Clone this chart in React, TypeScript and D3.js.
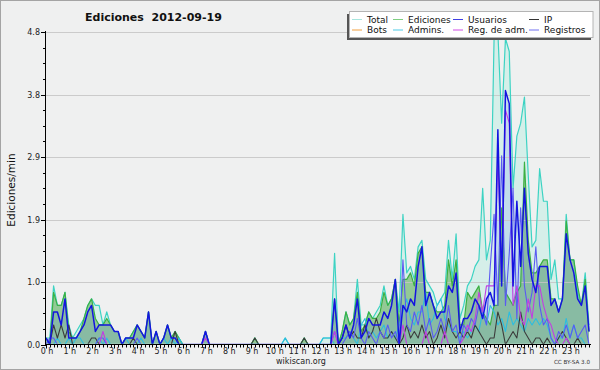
import React from 'react';
import * as d3 from 'd3';

const W = 600;
const H = 370;

// 10-minute slots, 144 per day, values in edits/min
const hourLabels = d3.range(24).map((h) => `${h} h`);
const yTickValues = [0, 0.96, 1.92, 2.88, 3.84, 4.8];

const total = [
  0.1, 0.1, 0.9, 0.6, 0.6, 0.8, 0.3, 0.1, 0.2, 0.3,
  0.4, 0.6, 0.7, 0.6, 0.6, 0.3, 0.5, 0.3, 0.2, 0.2,
  0, 0.1, 0.1, 0.2, 0.3, 0.2, 0.1, 0.5, 0, 0.2,
  0, 0.1, 0.3, 0.1, 0.2, 0.1, 0, 0, 0, 0,
  0, 0, 0.2, 0, 0, 0, 0, 0, 0, 0,
  0, 0, 0, 0, 0, 0.1, 0, 0, 0, 0,
  0, 0, 0, 0.1, 0, 0, 0, 0, 0.1, 0,
  0, 0, 0, 0.1, 0.1, 0.1, 1.4, 0, 0.2, 0.5,
  0.3, 0.4, 1.0, 0.3, 0.3, 0.5, 0.4, 0.5, 0.6, 0.9,
  0.6, 0.7, 1.0, 0.5, 2.0, 1.1, 1.2, 1.0, 1.5, 1.6,
  1.0, 0.9, 0.8, 0.6, 0.7, 0.8, 1.6, 1.0, 1.7, 0.4,
  0.6, 0.9, 1.0, 1.2, 1.3, 2.4, 1.3, 1.6, 4.7, 4.8,
  3.4, 4.7, 4.5, 2.4, 3.2, 3.4, 3.8, 2.6, 1.5, 1.6,
  2.7, 2.2, 2.2, 1.0, 1.3, 0.7, 0.7, 2.0, 1.3, 1.3,
  0.8, 0.6, 1.1, 0.3,
];

const ediciones = [
  0.1, 0, 0.8, 0.6, 0.6, 0.8, 0.2, 0.1, 0.1, 0.2,
  0.4, 0.6, 0.7, 0.4, 0.3, 0.3, 0.4, 0.3, 0.2, 0.2,
  0, 0.1, 0.1, 0.2, 0.3, 0.2, 0.1, 0.5, 0, 0.2,
  0, 0.1, 0.3, 0.1, 0.2, 0.1, 0, 0, 0, 0,
  0, 0, 0.2, 0, 0, 0, 0, 0, 0, 0,
  0, 0, 0, 0, 0, 0.1, 0, 0, 0, 0,
  0, 0, 0, 0, 0, 0, 0, 0, 0.1, 0,
  0, 0, 0, 0, 0, 0, 0.7, 0, 0.2, 0.5,
  0.3, 0.4, 0.8, 0.2, 0.3, 0.5, 0.4, 0.4, 0.5, 0.8,
  0.6, 0.7, 1.0, 0.3, 1.0, 1.0, 1.1, 0.9, 1.4, 1.5,
  0.8, 0.8, 0.6, 0.5, 0.5, 0.6, 1.3, 0.9, 1.3, 0.3,
  0.3, 0.8, 0.7, 0.8, 0.9, 0.5, 0.4, 0.3, 0.6, 0.6,
  2.1, 0.8, 0.7, 0.6, 0.8, 0.9, 2.8, 1.6, 1.1, 1.1,
  1.2, 1.3, 1.3, 0.7, 0.7, 0.5, 0.7, 1.9, 1.3, 1.3,
  0.9, 0.6, 1.0, 0.2,
];

const usuarios = [
  0.1, 0, 0.5, 0.5, 0.3, 0.7, 0.1, 0.1, 0.1, 0.2,
  0.3, 0.5, 0.6, 0.2, 0.3, 0.3, 0.3, 0.3, 0.2, 0.2,
  0, 0.1, 0.1, 0.1, 0.3, 0.2, 0.1, 0.5, 0, 0.2,
  0, 0.1, 0.3, 0.1, 0.1, 0, 0, 0, 0, 0,
  0, 0, 0.2, 0, 0, 0, 0, 0, 0, 0,
  0, 0, 0, 0, 0, 0, 0, 0, 0, 0,
  0, 0, 0, 0, 0, 0, 0, 0, 0, 0,
  0, 0, 0, 0, 0, 0, 0.7, 0, 0.1, 0.3,
  0.1, 0.3, 0.7, 0.1, 0.2, 0.4, 0.3, 0.3, 0.3, 0.5,
  0.4, 0.6, 1.0, 0, 0.6, 0.5, 0.7, 0.6, 1.2, 1.5,
  0.6, 0.8, 0.6, 0.4, 0.5, 0.5, 0.9, 0.8, 1.1, 0.2,
  0.4, 0.4, 0.5, 0.7, 0.6, 0.4, 0.7, 0.8, 0.6, 3.3,
  0.9, 3.9, 3.7, 0.9, 2.2, 1.2, 2.4, 1.4, 1.0, 0.8,
  1.2, 1.2, 1.2, 0.6, 0.7, 0.5, 0.7, 1.7, 1.3, 1.1,
  0.7, 0.6, 0.9, 0.2,
];

const ip = [
  0, 0, 0.3, 0.1, 0.3, 0.1, 0.3, 0, 0, 0,
  0, 0, 0.1, 0.1, 0, 0, 0, 0, 0, 0,
  0, 0, 0, 0.1, 0, 0, 0, 0, 0, 0,
  0, 0, 0, 0, 0.2, 0, 0, 0, 0, 0,
  0, 0, 0, 0, 0, 0, 0, 0, 0, 0,
  0, 0, 0, 0, 0, 0.1, 0, 0, 0, 0,
  0, 0, 0, 0, 0, 0, 0, 0, 0.1, 0,
  0, 0, 0, 0, 0, 0, 0, 0, 0.1, 0.3,
  0.1, 0.2, 0.1, 0.1, 0.3, 0.1, 0.2, 0.4, 0.2, 0.1,
  0.1, 0.2, 0.1, 0, 0.1, 0.3, 0.1, 0.2, 0.1, 0.3,
  0.1, 0.2, 0, 0.1, 0.3, 0.1, 0.4, 0.2, 0.1, 0.2,
  0.1, 0.2, 0.1, 0.3, 0.2, 0.1, 0, 0.1, 0.1, 0.5,
  0.3, 0, 0.1, 0.2, 0.1, 0.5, 0.2, 0.1, 0, 0.1,
  0.1, 0, 0.1, 0, 0, 0.1, 0.2, 0.1, 0, 0,
  0.1, 0, 0, 0,
];

const bots = d3.range(144).map(() => 0);

const admins = [
  0, 0, 0, 0.1, 0, 0, 0.1, 0, 0.1, 0.1,
  0, 0, 0, 0, 0.1, 0, 0.1, 0, 0, 0,
  0, 0.1, 0, 0, 0, 0.1, 0, 0, 0, 0,
  0, 0.1, 0, 0.1, 0, 0.1, 0, 0, 0, 0,
  0, 0, 0, 0, 0, 0, 0, 0, 0, 0,
  0, 0, 0, 0, 0, 0, 0, 0, 0, 0,
  0, 0, 0, 0.1, 0, 0, 0, 0, 0, 0,
  0, 0, 0, 0.1, 0.1, 0.1, 0, 0, 0.1, 0.1,
  0.2, 0.1, 0, 0.3, 0.4, 0.1, 0.2, 0.1, 0.2, 0.3,
  0.1, 0.2, 0.1, 0.3, 0.5, 0.7, 0.4, 0.3, 0.5, 0.5,
  0.8, 0.3, 0.4, 0.6, 0.7, 0.4, 0.3, 0.2, 0.2, 0.1,
  0.2, 0.1, 0.2, 0.3, 0.2, 0.5, 0.3, 0.6, 0.5, 0.3,
  0.4, 0.2, 0.5, 0.3, 0.4, 0.3, 0.2, 0.4, 0.3, 0.4,
  0.3, 0.4, 0.3, 0.1, 0, 0.1, 0.1, 0.4, 0.1, 0.3,
  0.1, 0.1, 0, 0,
];

const regAdm = [
  0, 0, 0, 0, 0, 0, 0, 0, 0, 0,
  0, 0, 0, 0, 0, 0.2, 0, 0, 0, 0,
  0, 0, 0, 0, 0, 0, 0, 0, 0, 0,
  0, 0, 0, 0, 0, 0, 0, 0, 0, 0,
  0, 0, 0.1, 0, 0, 0, 0, 0, 0, 0,
  0, 0, 0, 0, 0, 0, 0, 0, 0, 0,
  0, 0, 0, 0, 0, 0, 0, 0, 0, 0,
  0, 0, 0, 0, 0, 0, 0.2, 0, 0, 0,
  0, 0, 0, 0, 0, 0, 0, 0, 0, 0,
  0, 0, 0, 0, 0.3, 0, 0, 0, 0, 0,
  0.2, 0, 0, 0, 0, 0.2, 0, 0, 0, 0,
  0.1, 0.3, 0.2, 0.4, 0.8, 0.5, 0.9, 0.9, 0.9, 2.9,
  1.0, 3.6, 3.4, 0.6, 0.9, 0.4, 0.3, 0.7, 0.4, 0.9,
  0.9, 0.6, 0.4, 0.3, 0.1, 0, 0, 0.1, 0, 0,
  0, 0, 0, 0,
];

const registros = [
  0, 0.1, 0.1, 0, 0, 0, 0, 0, 0, 0,
  0, 0, 0, 0, 0.1, 0.1, 0, 0, 0, 0,
  0, 0, 0, 0, 0.1, 0, 0, 0, 0, 0,
  0, 0, 0, 0, 0, 0, 0, 0, 0, 0,
  0, 0, 0.2, 0, 0, 0, 0, 0, 0, 0,
  0, 0, 0, 0, 0, 0, 0, 0, 0, 0,
  0, 0, 0, 0, 0, 0, 0, 0, 0, 0,
  0, 0, 0, 0, 0, 0, 0.2, 0, 0, 0.1,
  0.2, 0.1, 0.4, 0.1, 0, 0.2, 0.1, 0, 0.2, 0.1,
  0.3, 0.1, 0.2, 0, 1.3, 0.3, 0.2, 0.5, 0.3, 0.6,
  0.2, 0.4, 0.1, 0.2, 0.4, 0.2, 0.6, 0.2, 0.3, 0,
  0.3, 0.2, 0.4, 0.3, 0.6, 0.5, 0.3, 1.2, 2.0, 0.6,
  2.9, 0.6, 1.4, 2.4, 0.4, 2.1, 0.9, 0.5, 0.8, 1.5,
  0.6, 0.3, 0.4, 0.1, 0, 0.2, 0.1, 0.3, 0.1, 0.3,
  0.1, 0.2, 0.3, 0,
];

const legendNames = ['Total', 'Ediciones', 'Usuarios', 'IP', 'Bots', 'Admins.', 'Reg. de adm.', 'Registros'];

type Series = { name: string; values: number[]; color: string; width: number };

const seriesList: Series[] = [
  { name: 'Total', values: total, color: '#3dd3c3', width: 1.2 },
  { name: 'Ediciones', values: ediciones, color: '#3cb043', width: 1.2 },
  { name: 'Usuarios', values: usuarios, color: '#1414e0', width: 1.5 },
  { name: 'IP', values: ip, color: '#3c3c3c', width: 1.1 },
  { name: 'Bots', values: bots, color: '#f0a030', width: 1.1 },
  { name: 'Admins.', values: admins, color: '#2cbde0', width: 1.1 },
  { name: 'Reg. de adm.', values: regAdm, color: '#c23ee2', width: 1.1 },
  { name: 'Registros', values: registros, color: '#5a5af2', width: 1.1 },
];

const legendColors: Record<string, string> = {
  Total: '#a8e6de',
  Ediciones: '#7fcf82',
  Usuarios: '#4040e4',
  IP: '#333333',
  Bots: '#f2a040',
  'Admins.': '#4ccbe6',
  'Reg. de adm.': '#d04ce6',
  Registros: '#7070f0',
};

export default function App() {
  const x = d3.scaleLinear().domain([0, 143]).range([46, 589]);
  const y = d3.scaleLinear().domain([0, 4.8]).range([344.5, 32]);
  const fmt = d3.format('.1f');

  const lineGen = d3
    .line<number>()
    .x((_, i) => x(i))
    .y((d) => y(d));
  const areaGen = d3
    .area<number>()
    .x((_, i) => x(i))
    .y0(y(0))
    .y1((d) => y(d));

  const minorY = d3.range(0, 4.8001, 0.24);
  const slots = d3.range(144);
  const font = '"DejaVu Sans", Verdana, sans-serif';

  const drawOrder = ['Total', 'Ediciones', 'Admins.', 'IP', 'Registros', 'Reg. de adm.', 'Usuarios'];
  const byName = (n: string) => seriesList.find((s) => s.name === n)!;

  const colX = [352, 393, 453, 529];
  const rowY = [19, 29.5];

  return (
    <svg
      width={W}
      height={H}
      style={{ position: 'absolute', left: 0, top: 0, display: 'block' }}
      fontFamily={font}
    >
      <defs>
        <clipPath id="plotClip">
          <rect x={46} y={20} width={546} height={323.8} />
        </clipPath>
      </defs>
      <rect x={0.5} y={0.5} width={W - 1} height={H - 1} fill="#eff0f0" stroke="#a4a4a4" />

      <g clipPath="url(#plotClip)">
        {/* areas */}
        <path d={areaGen(total) || ''} fill="#d5efe9" />
        <path d={areaGen(ediciones) || ''} fill="#93c996" />
        <path d={areaGen(usuarios) || ''} fill="rgba(60,90,255,0.13)" />

        {/* grid */}
        {yTickValues.slice(1).map((v) => (
          <line key={'g' + v} x1={46} x2={590} y1={Math.round(y(v)) + 0.5} y2={Math.round(y(v)) + 0.5} stroke="#c4c4c4" strokeOpacity={0.85} />
        ))}

        {/* lines */}
        {drawOrder.map((n) => {
          const s = byName(n);
          if (!s.values.some((v) => v > 0)) return null;
          return (
            <path
              key={n}
              d={lineGen(s.values) || ''}
              fill="none"
              stroke={s.color}
              strokeWidth={s.width}
              strokeLinejoin="round"
            />
          );
        })}
      </g>

      {/* y axis */}
      <line x1={45.5} x2={45.5} y1={31} y2={345} stroke="#000" />
      {minorY.map((v, i) => (
        <line key={'my' + i} x1={i % 4 === 0 ? 41 : 43} x2={46} y1={Math.round(y(v)) + 0.5} y2={Math.round(y(v)) + 0.5} stroke="#000" />
      ))}
      {yTickValues.map((v) => (
        <text key={'yl' + v} x={40} y={y(v) + 3} fontSize={8} textAnchor="end" fill="#222">
          {fmt(v)}
        </text>
      ))}

      {/* x axis */}
      <line x1={45} x2={591} y1={344.5} y2={344.5} stroke="#000" />
      {slots.map((i) => (
        <line
          key={'xt' + i}
          x1={Math.round(x(i)) + 0.5}
          x2={Math.round(x(i)) + 0.5}
          y1={344}
          y2={i % 6 === 0 ? 348.5 : 347.5}
          stroke="#000"
        />
      ))}
      {hourLabels.map((lab, h) => (
        <text key={lab} x={x(h * 6) + 1} y={354} fontSize={8} textAnchor="middle" fill="#222">
          {lab}
        </text>
      ))}

      {/* titles */}
      <text x={85} y={20.5} fontSize={11} fontWeight="bold" fill="#111" style={{ whiteSpace: 'pre' }}>
        {'Ediciones  2012-09-19'}
      </text>
      <text
        transform={`translate(15,190) rotate(-90)`}
        fontSize={10.5}
        textAnchor="middle"
        fill="#111"
      >
        Ediciones/min
      </text>
      <text x={301} y={364} fontSize={8} textAnchor="middle" fill="#222">
        wikiscan.org
      </text>
      <text x={590} y={364} fontSize={5.6} textAnchor="end" fill="#333">
        CC BY-SA 3.0
      </text>

      {/* legend */}
      <rect x={347} y={14} width={244} height={26} fill="#555" />
      <rect x={349.5} y={11.5} width={243.5} height={26} fill="#fff" stroke="#b4b4b4" />
      {legendNames.map((n, i) => {
        const col = i % 4;
        const row = Math.floor(i / 4);
        const sx = colX[col];
        const sy = rowY[row];
        return (
          <g key={'lg' + n}>
            <line x1={sx} x2={sx + 10} y1={sy + 0.5} y2={sy + 0.5} stroke={legendColors[n]} strokeWidth={1} />
            <text x={sx + 15} y={sy + 3.5} fontSize={9} fill="#111">
              {n}
            </text>
          </g>
        );
      })}
    </svg>
  );
}
